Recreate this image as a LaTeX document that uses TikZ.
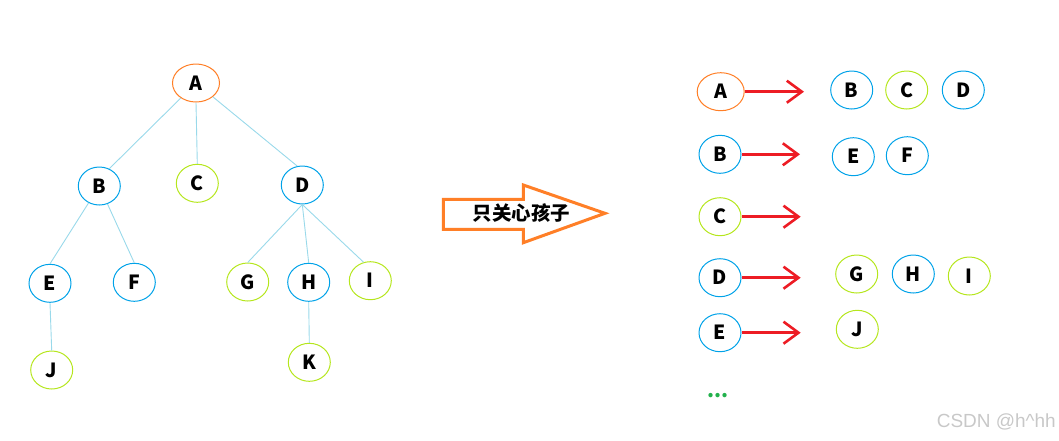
\documentclass[tikz,border=0pt]{standalone}
\usepackage{fontspec}
\newfontfamily\cjk{Noto Sans CJK SC}
\setsansfont{Liberation Sans}
\usetikzlibrary{shapes.geometric,arrows.meta}
\definecolor{corange}{HTML}{FF7F27}
\definecolor{cblue}{HTML}{00A2E8}
\definecolor{cygreen}{HTML}{B5E61D}
\definecolor{cedge}{HTML}{99D9EA}
\definecolor{cred}{HTML}{ED1C24}
\definecolor{cgreen}{HTML}{22B14C}
\definecolor{cwater}{HTML}{C8C8C8}
\tikzset{
  nd/.style={ellipse,draw,line width=1pt,inner sep=0pt,minimum width=42pt,minimum height=38pt,
    font=\cjk\bfseries\fontsize{19.5}{19.5}\selectfont},
  ndo/.style={nd,draw=corange,minimum width=47pt},
  ndb/.style={nd,draw=cblue},
  ndg/.style={nd,draw=cygreen},
  edge/.style={draw=cedge,line width=0.9pt},
  redarr/.style={draw=cred,line width=2.6pt,-{Straight Barb[length=15pt,width=22pt]}},
}
\begin{document}
\begin{tikzpicture}[x=1pt,y=-1pt]
\useasboundingbox (0,0) rectangle (1059,440);
% tree
\node[ndo] (A) at (196,83) {A};
\node[ndb] (B) at (99.3,186) {B};
\node[ndg] (C) at (197.3,183.3) {C};
\node[ndb] (D) at (302.3,185) {D};
\node[ndb] (E) at (50,283.3) {E};
\node[ndb] (F) at (134.3,282.3) {F};
\node[ndg] (G) at (247.7,282) {G};
\node[ndb] (H) at (308.7,282.3) {H};
\node[ndg] (I) at (370.3,280.7) {I};
\node[ndg] (J) at (51.7,370) {J};
\node[ndg] (K) at (309.3,362.3) {K};
\draw[edge] (A) -- (B.60);
\draw[edge] (A.south) -- (C.north);
\draw[edge] (A) -- (D.105);
\draw[edge] (B) -- (E.north);
\draw[edge] (B) -- (F.north);
\draw[edge] (D.south) -- (G.north);
\draw[edge] (D.south) -- (H.north);
\draw[edge] (D.south) -- (I.110);
\draw[edge] (E.south) -- (J.north);
\draw[edge] (H.south) -- (K.north);
% big arrow
\draw[corange,line width=3pt,line join=miter,fill=white]
  (443.3,199.3) -- (523.3,199.3) -- (523.3,185) -- (605,213.3) -- (523.3,242.7)
  -- (523.3,229.3) -- (443.3,229.3) -- cycle;
\node[font=\cjk\bfseries\fontsize{19.5}{19.5}\selectfont,inner sep=0pt] (lbl) at (521.7,213.3) {只关心孩子};
% right side
\node[ndo] (rA) at (720.7,91.7) {A};
\node[ndb] (rB1) at (851.7,90) {B};
\node[ndg] (rC1) at (906.7,90) {C};
\node[ndb] (rD1) at (963.3,90) {D};
\node[ndb] (rB) at (720,154.3) {B};
\node[ndb] (rE1) at (853.3,156.7) {E};
\node[ndb] (rF1) at (907.3,155.7) {F};
\node[ndg] (rC) at (720,216.7) {C};
\node[ndb] (rD) at (720,277.7) {D};
\node[ndg] (rG1) at (856.7,274) {G};
\node[ndb] (rH1) at (913.3,274) {H};
\node[ndg] (rI1) at (969.3,276) {I};
\node[ndb] (rE) at (720,332.7) {E};
\node[ndg] (rJ1) at (857.3,329.3) {J};
\coordinate (t1) at (804,91.7);
\coordinate (t2) at (800,154.3);
\coordinate (t3) at (800.7,216.7);
\coordinate (t4) at (800.7,277.7);
\coordinate (t5) at (800.7,332.7);
\draw[redarr] (rA.east) -- (t1);
\draw[redarr] (rB.east) -- (t2);
\draw[redarr] (rC.east) -- (t3);
\draw[redarr] (rD.east) -- (t4);
\draw[redarr] (rE.east) -- (t5);
\node[text=cgreen,font=\cjk\bfseries\fontsize{20}{20}\selectfont,inner sep=0pt,anchor=base] (dots) at (718.3,397.5) {...};
\node[text=cwater,font=\sffamily\fontsize{19}{19}\selectfont,inner sep=0pt,anchor=east] (wm) at (1056,422) {CSDN @h\^{}hh};
\end{tikzpicture}
\end{document}
